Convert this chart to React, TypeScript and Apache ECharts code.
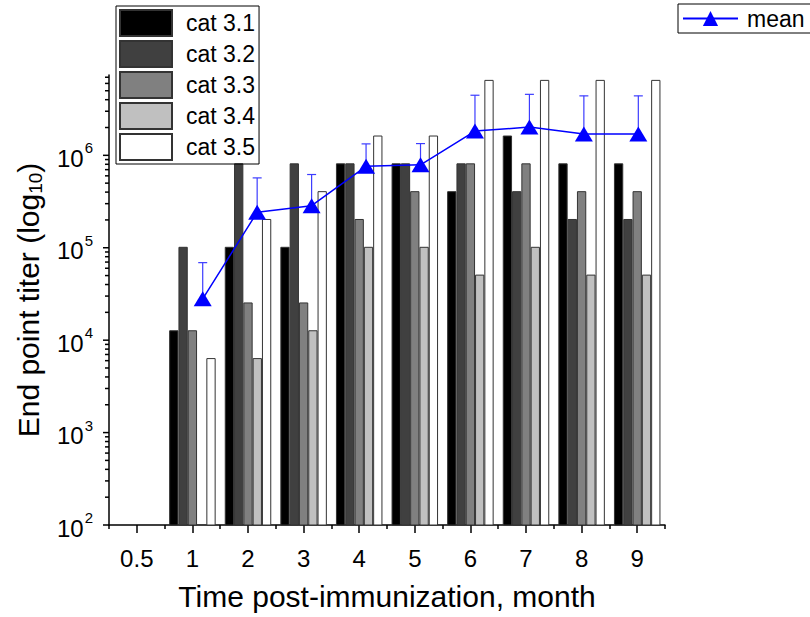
import React, { useEffect, useRef } from "react";
import * as echarts from "echarts";

const months = ["0.5", "1", "2", "3", "4", "5", "6", "7", "8", "9"];
const seriesNames = ["cat 3.1", "cat 3.2", "cat 3.3", "cat 3.4", "cat 3.5"];
const cat31 = [null, 12800, 102400, 102400, 819200, 819200, 409600, 1638400, 819200, 819200];
const cat32 = [null, 102400, 819200, 819200, 819200, 819200, 819200, 409600, 204800, 204800];
const cat33 = [null, 12800, 25600, 25600, 204800, 409600, 819200, 819200, 409600, 409600];
const cat34 = [null, null, 6400, 12800, 102400, 102400, 51200, 102400, 51200, 51200];
const cat35 = [null, 6400, 204800, 409600, 1638400, 1638400, 6553600, 6553600, 6553600, 6553600];
const barColors = ["#000000", "#404040", "#808080", "#c0c0c0", "#ffffff"];

const meanMonths = [1, 2, 3, 4, 5, 6, 7, 8, 9];
const meanValues = [28000, 242000, 285000, 760000, 790000, 1830000, 2020000, 1700000, 1700000];
const meanUpper = [69000, 570000, 620000, 1330000, 1340000, 4470000, 4570000, 4400000, 4400000];

const yDecades = [2, 3, 4, 5, 6];
const yMin = 100;
const yMax = 7.4e6;

const FONT = "'Liberation Sans', Arial, sans-serif";

export default function App() {
  const ref = useRef<HTMLDivElement>(null);
  useEffect(() => {
    if (!ref.current) return;
    const chart = echarts.init(ref.current, undefined, { renderer: "svg" });

    const tickValues: number[][] = [];
    yDecades.forEach((d) => {
      for (let k = 1; k <= 9; k++) {
        const v = k * Math.pow(10, d);
        if (v <= yMax) tickValues.push([0, v, k === 1 ? 1 : 0]);
      }
    });

    const barData = [cat31, cat32, cat33, cat34, cat35];

    const option: any = {
      animation: false,
      backgroundColor: "#ffffff",
      textStyle: { fontFamily: FONT },
      grid: { left: 109, top: 75, right: 145, bottom: 92, containLabel: false, outerBoundsMode: "none" },
      legend: [
        {
          data: seriesNames,
          orient: "vertical",
          left: 116,
          top: 6,
          icon: "rect",
          itemWidth: 52,
          itemHeight: 26,
          itemGap: 3,
          padding: [3, 4, 3, 3],
          borderColor: "#000",
          borderWidth: 1,
          textStyle: { fontSize: 23, color: "#000", fontFamily: FONT, padding: [0, 0, 0, 9] },
        },
        {
          data: ["mean"],
          left: 678,
          top: 4,
          itemWidth: 55,
          itemHeight: 19,
          padding: [3, 20, 3, 4],
          borderColor: "#000",
          borderWidth: 1,
          textStyle: { fontSize: 23, color: "#000", fontFamily: FONT, padding: [0, 0, 0, 4] },
        },
      ],
      xAxis: [
        {
          type: "category",
          data: months,
          position: "bottom",
          axisLine: { show: true, onZero: false, lineStyle: { color: "#000", width: 1.5 } },
          axisTick: { show: true, alignWithLabel: true, length: 8, lineStyle: { color: "#000", width: 1.5 } },
          axisLabel: { fontSize: 24, color: "#000", margin: 21, fontFamily: FONT },
          splitLine: { show: false },
          name: "Time post-immunization, month",
          nameLocation: "middle",
          nameGap: 56,
          nameMoveOverlap: false,
          nameTextStyle: { fontSize: 30, color: "#000", fontFamily: FONT },
        },
        {
          type: "value",
          min: -0.721,
          max: 9.49,
          show: false,
          position: "bottom",
          axisLine: { onZero: false },
        },
        {
          type: "category",
          data: months,
          position: "bottom",
          axisLine: { show: false, onZero: false },
          axisTick: { show: true, alignWithLabel: false, length: 4, lineStyle: { color: "#000", width: 1.5 } },
          axisLabel: { show: false },
          splitLine: { show: false },
        },
      ],
      yAxis: {
        type: "log",
        logBase: 10,
        min: yMin,
        max: yMax,
        axisLine: { show: true, onZero: false, lineStyle: { color: "#000", width: 1.5 } },
        axisTick: { show: false },
        splitLine: { show: false },
        minorTick: { show: false },
        axisLabel: {
          margin: 16,
          color: "#000",
          fontFamily: FONT,
          formatter: (v: number) => {
            const l = Math.log10(v);
            if (Math.abs(l - Math.round(l)) > 1e-6) return "";
            return "{b|10}{s|" + Math.round(l) + "}";
          },
          rich: {
            b: { fontSize: 24, color: "#000", fontFamily: FONT, lineHeight: 30, verticalAlign: "bottom" },
            s: { fontSize: 15, color: "#000", fontFamily: FONT, lineHeight: 30, verticalAlign: "top", padding: [0, 0, 0, 1] },
          },
        },
        name: "End point titer (log{sub|10})",
        nameLocation: "middle",
        nameGap: 64,
        nameRotate: 90,
        nameMoveOverlap: false,
        nameTextStyle: {
          fontSize: 30,
          color: "#000",
          fontFamily: FONT,
          lineHeight: 34,
          rich: {
            sub: { fontSize: 19, color: "#000", fontFamily: FONT, verticalAlign: "bottom", lineHeight: 34 },
          },
        },
      },
      series: [
        ...seriesNames.map((n, i) => ({
          name: n,
          type: "bar",
          xAxisIndex: 0,
          data: barData[i],
          barWidth: 9.3,
          barGap: "0%",
          itemStyle: { color: barColors[i], borderColor: "#333", borderWidth: 1 },
          z: 2,
        })),
        {
          name: "errbar",
          type: "custom",
          xAxisIndex: 1,
          data: meanMonths.map((m, i) => [m, meanValues[i], meanUpper[i]]),
          encode: { x: 0, y: [1, 2] },
          z: 4,
          renderItem: (params: any, api: any) => {
            const p0 = api.coord([api.value(0), api.value(1)]);
            const p1 = api.coord([api.value(0), api.value(2)]);
            const st = { stroke: "#3c3cff", lineWidth: 1.2 };
            return {
              type: "group",
              children: [
                { type: "line", shape: { x1: p0[0], y1: p0[1], x2: p1[0], y2: p1[1] }, style: st },
                { type: "line", shape: { x1: p1[0] - 4.5, y1: p1[1], x2: p1[0] + 4.5, y2: p1[1] }, style: st },
              ],
            };
          },
        },
        {
          name: "mean",
          type: "line",
          xAxisIndex: 1,
          data: meanMonths.map((m, i) => [m, meanValues[i]]),
          symbol: "triangle",
          symbolSize: [18, 15],
          itemStyle: { color: "#0000ff" },
          lineStyle: { color: "#0000ff", width: 1.5 },
          z: 5,
        },
        {
          name: "yticks",
          type: "custom",
          xAxisIndex: 1,
          data: tickValues,
          encode: { x: 0, y: 1 },
          z: 6,
          silent: true,
          renderItem: (params: any, api: any) => {
            const p = api.coord([api.value(0), api.value(1)]);
            const x = params.coordSys.x;
            const len = api.value(2) === 1 ? 6 : 4;
            return {
              type: "line",
              shape: { x1: x - len, y1: p[1], x2: x, y2: p[1] },
              style: { stroke: "#000", lineWidth: 1.5 },
            };
          },
        },
      ],
    };
    chart.setOption(option);
    return () => chart.dispose();
  }, []);
  return <div ref={ref} style={{ position: "fixed", left: 0, top: 0, width: 810, height: 617 }} />;
}
